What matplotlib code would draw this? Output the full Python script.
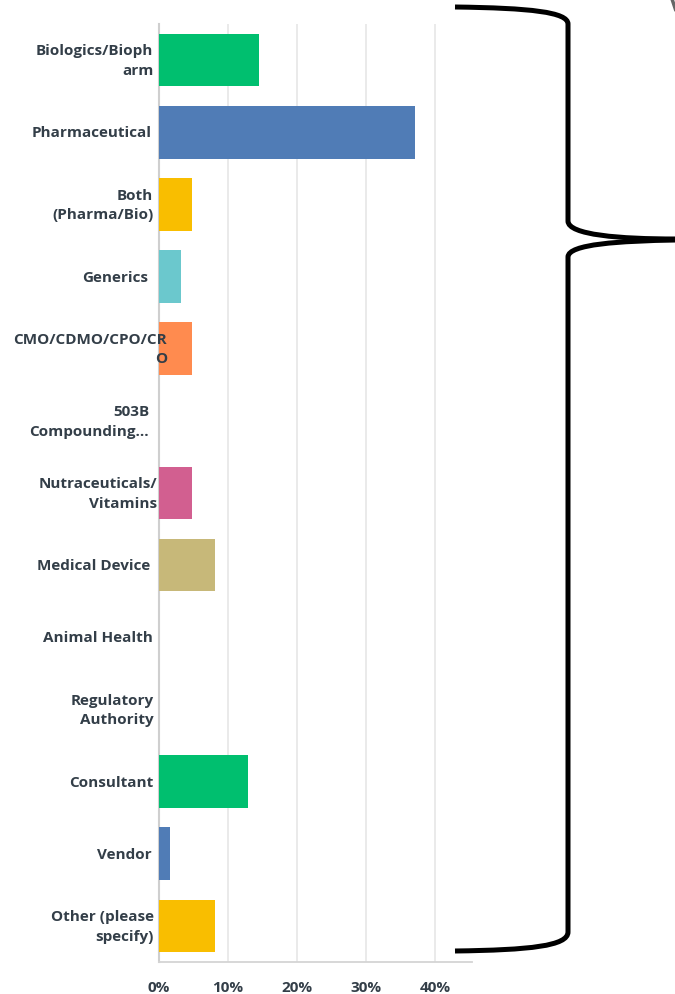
import matplotlib
matplotlib.use("Agg")
import matplotlib.pyplot as plt
from matplotlib.path import Path
from matplotlib.patches import PathPatch

# survey answers, share of respondents in percent
categories = [
    "Biologics/Bioph\narm",
    "Pharmaceutical",
    "Both\n(Pharma/Bio)",
    "Generics",
    "CMO/CDMO/CPO/CR\nO",
    "503B\nCompounding...",
    "Nutraceuticals/\nVitamins",
    "Medical Device",
    "Animal Health",
    "Regulatory\nAuthority",
    "Consultant",
    "Vendor",
    "Other (please\nspecify)",
]
percent = [14.5, 37.1, 4.8, 3.2, 4.8, 0, 4.8, 8.1, 0, 0, 12.9, 1.6, 8.1]
tick_values = [0, 10, 20, 30, 40]
tick_labels = ["0%", "10%", "20%", "30%", "40%"]

bar_colors = ["#00bf6f", "#507cb6", "#f9be00", "#6bc8cd", "#ff8b4f", "#7f7fff",
              "#d25f90", "#c7b879", "#a0a0a0", "#a0a0a0", "#00bf6f", "#507cb6", "#f9be00"]
text_color = "#333e48"
# right edge of each label, in axes fraction (labels overflow a little like the original)
label_right = [-0.018, -0.022, -0.018, -0.035, 0.025, -0.032, -0.006, -0.028,
               -0.018, -0.018, -0.018, -0.025, -0.016]

W, H = 675, 995
fig = plt.figure(figsize=(W / 100, H / 100), dpi=100)
ax = fig.add_axes([159 / W, 1 - 963 / H, (472 - 159) / W, (963 - 25) / H])

y = list(range(len(categories)))
ax.barh(y, percent, height=0.73, color=bar_colors, zorder=3)

ax.set_xlim(0, 45.3)
ax.set_ylim(len(categories) - 0.5, -0.5)
ax.set_xticks(tick_values)
ax.set_xticklabels(tick_labels, fontsize=11, fontweight="bold", color=text_color,
                   family="Open Sans")
ax.tick_params(axis="x", length=0, pad=13)
ax.set_yticks([])

for v in tick_values[1:]:
    ax.axvline(v, color="#e8e8e8", lw=1.3, zorder=1)

for s in ["top", "right"]:
    ax.spines[s].set_visible(False)
ax.spines["left"].set_color("#cfcfcf")
ax.spines["left"].set_linewidth(1.5)
ax.spines["bottom"].set_color("#d4d4d4")
ax.spines["bottom"].set_linewidth(1.3)

for i, name in enumerate(categories):
    ax.text(label_right[i], i, name, transform=ax.get_yaxis_transform(),
            ha="right", va="center", multialignment="right",
            fontsize=11, fontweight="bold", color=text_color, family="Open Sans",
            linespacing=1.5, zorder=4)

# overlay in pixel coordinates for the hand-drawn braces
ov = fig.add_axes([0, 0, 1, 1], facecolor="none")
ov.set_xlim(0, W)
ov.set_ylim(H, 0)
ov.axis("off")

top_brace = [
    (455, 8), (530, 9), (568, 13), (568, 25),
    (568, 222),
    (568, 236), (620, 240), (676, 240),
]
top_codes = [Path.MOVETO, Path.CURVE4, Path.CURVE4, Path.CURVE4,
             Path.LINETO,
             Path.CURVE4, Path.CURVE4, Path.CURVE4]
low_brace = [
    (676, 241), (620, 242), (568, 245), (568, 258),
    (568, 933),
    (568, 947), (530, 951), (455, 952),
]
low_codes = top_codes

for pts, codes in [(top_brace, top_codes), (low_brace, low_codes)]:
    ov.add_patch(PathPatch(Path(pts, codes), facecolor="none", edgecolor="black",
                           lw=3.6, capstyle="butt", joinstyle="round"))

# small grey mark cut off at top right corner
ov.plot([672, 676], [0, 12], color="#666666", lw=2.5, solid_capstyle="butt")

fig.savefig("out.png", dpi=100)
